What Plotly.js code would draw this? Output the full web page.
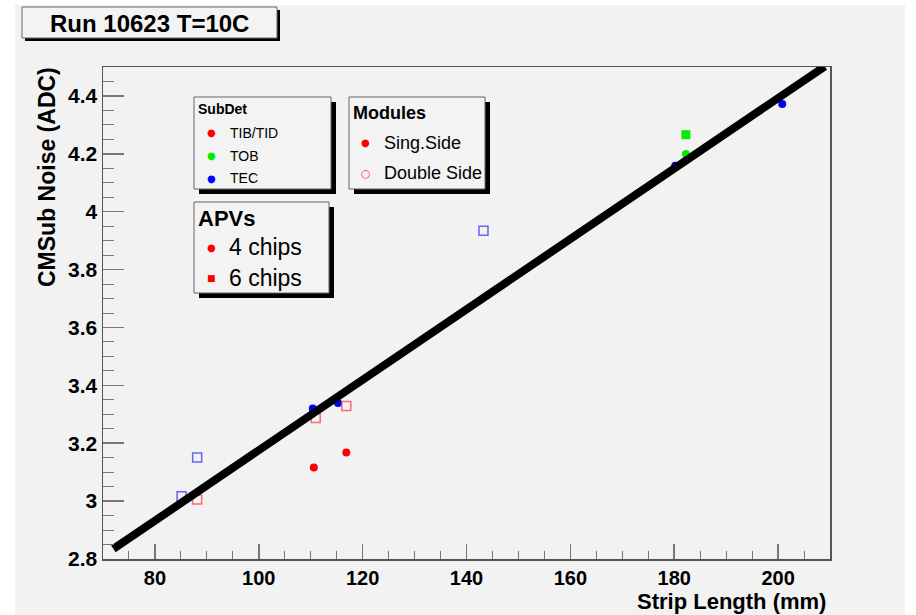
<!DOCTYPE html>
<html>
<head>
<meta charset="utf-8">
<script src="https://cdn.plot.ly/plotly-3.0.1.min.js"></script>
<style>
html,body{margin:0;padding:0;background:#ffffff;width:916px;height:615px;overflow:hidden;}
#chart{position:absolute;left:15px;top:5px;width:890px;height:610px;}
</style>
</head>
<body>
<div id="chart"></div>
<script>
// ---- data ----
const tibSingle4_x = [110.6, 116.85];
const tibSingle4_y = [3.116, 3.168];
const tecSingle4_x = [110.4, 115.25, 180.2, 200.8];
const tecSingle4_y = [3.320, 3.339, 4.159, 4.372];
const tobSingle4_x = [182.25];
const tobSingle4_y = [4.199];
const tobSingle6_x = [182.25];
const tobSingle6_y = [4.266];
const tibDouble6_x = [110.96, 116.85, 88.13];
const tibDouble6_y = [3.287, 3.329, 3.006];
const tecDouble6_x = [85.13, 88.13, 143.27];
const tecDouble6_y = [3.017, 3.151, 3.934];
const fit_x = [72, 209];
const fit_y = [2.835, 4.502];

const xTickVals = [80, 100, 120, 140, 160, 180, 200];
const yTickVals = [2.8, 3.0, 3.2, 3.4, 3.6, 3.8, 4.0, 4.2, 4.4];
const yTickText = ['2.8', '3', '3.2', '3.4', '3.6', '3.8', '4', '4.2', '4.4'];

// ---- layout helpers (page pixel -> paper fraction) ----
const DIVX = 15, DIVY = 5;
const ML = 88, MR = 75, MT = 62, MB = 56;
const W = 890, H = 610;
const PW = W - ML - MR, PH = H - MT - MB;
const px = a => (a - DIVX - ML) / PW;
const py = a => (H - MB - (a - DIVY)) / PH;

const FONT = 'Liberation Sans, Arial, sans-serif';

function box(x0, y0, x1, y1, sh) {
  return [
    {type:'rect', xref:'paper', yref:'paper', x0:px(x0+sh), x1:px(x1+sh), y0:py(y1+sh), y1:py(y0+sh),
     fillcolor:'#000000', line:{width:0}, layer:'above'},
    {type:'rect', xref:'paper', yref:'paper', x0:px(x0), x1:px(x1), y0:py(y1), y1:py(y0),
     fillcolor:'#f3f3f3', line:{color:'#666666', width:1}, layer:'above'}
  ];
}
function txt(x, y, text, size, opts) {
  return Object.assign({xref:'paper', yref:'paper', x:px(x), y:py(y), text:text, showarrow:false,
    xanchor:'left', yanchor:'middle', font:{family:FONT, size:size, color:'#000000'}}, opts || {});
}
function bold(size) { return {family:FONT, size:size, color:'#000', weight:'bold'}; }
function dot(x, y, ch, size, color) {
  return txt(x, y, ch, size, {xanchor:'center', font:{family:'DejaVu Sans', size:size, color:color}});
}

const traces = [
  {x:tibSingle4_x, y:tibSingle4_y, mode:'markers', type:'scatter',
   marker:{symbol:'circle', size:8, color:'#ff0000'}},
  {x:tecSingle4_x, y:tecSingle4_y, mode:'markers', type:'scatter',
   marker:{symbol:'circle', size:8, color:'#0000ff'}},
  {x:tobSingle4_x, y:tobSingle4_y, mode:'markers', type:'scatter',
   marker:{symbol:'circle', size:8, color:'#00ee00'}},
  {x:tobSingle6_x, y:tobSingle6_y, mode:'markers', type:'scatter',
   marker:{symbol:'square', size:9, color:'#00ee00'}},
  {x:tibDouble6_x, y:tibDouble6_y, mode:'markers', type:'scatter',
   marker:{symbol:'square-open', size:9, color:'rgba(255,60,60,0.75)', line:{width:1.5}}},
  {x:tecDouble6_x, y:tecDouble6_y, mode:'markers', type:'scatter',
   marker:{symbol:'square-open', size:9, color:'rgba(40,40,255,0.7)', line:{width:1.5}}},
  {x:fit_x, y:fit_y, mode:'lines', type:'scatter', line:{color:'#000000', width:8}}
];

const shapes = [].concat(
  box(22, 7, 277, 38, 3),
  box(194, 97, 331, 189, 5),
  box(349, 97, 485, 189, 5),
  box(194, 202, 329, 293, 5)
);

const annotations = [
  txt(149, 23, 'Run 10623 T=10C', 24, {xanchor:'center', font:bold(24)}),
  // SubDet
  txt(196, 109, 'SubDet', 14, {font:bold(14)}),
  dot(211.5, 132.5, '●', 10, '#ff0000'),
  txt(228, 132.5, 'TIB/TID', 14),
  dot(211.5, 155.5, '●', 10, '#00ee00'),
  txt(228, 155.5, 'TOB', 14),
  dot(211.5, 178, '●', 10, '#0000ff'),
  txt(228, 178, 'TEC', 14),
  // Modules
  txt(351, 113, 'Modules', 18, {font:bold(18)}),
  dot(365.5, 143, '●', 10, '#ff0000'),
  txt(382, 143, 'Sing.Side', 18),
  dot(365.5, 173, '○', 11, '#ff3030'),
  txt(382, 173, 'Double Side', 18),
  // APVs
  txt(196, 218, 'APVs', 22, {font:bold(22)}),
  dot(211.5, 247, '●', 10, '#ff0000'),
  txt(227, 247, '4 chips', 23),
  dot(211.5, 277.5, '■', 9, '#ff0000'),
  txt(227, 277.5, '6 chips', 23),
  // axis titles
  txt(47, 177, 'CMSub Noise (ADC)', 23, {xanchor:'center', textangle:-90, font:bold(23)}),
  txt(828, 601, 'Strip Length (mm)', 22, {xanchor:'right', font:bold(22)})
];

const layout = {
  width: W, height: H,
  margin: {l:ML, r:MR, t:MT, b:MB, pad:0},
  paper_bgcolor: '#f2f2f2',
  plot_bgcolor: '#f2f2f2',
  showlegend: false,
  xaxis: {
    range: [70, 210], tickmode:'array', tickvals:xTickVals,
    ticks:'inside', ticklen:15, tickwidth:1.5, tickcolor:'#777777',
    minor:{ticks:'inside', ticklen:8, tickwidth:1, tickcolor:'#777777', dtick:5, tick0:0, showgrid:false},
    showline:true, linecolor:'#555555', linewidth:1.5, mirror:true,
    showgrid:false, zeroline:false,
    tickfont:bold(20)
  },
  yaxis: {
    range: [2.8, 4.5], tickmode:'array', tickvals:yTickVals, ticktext:yTickText,
    ticks:'inside', ticklen:21, tickwidth:1.5, tickcolor:'#777777',
    minor:{ticks:'inside', ticklen:11, tickwidth:1, tickcolor:'#777777', dtick:0.05, tick0:2.8, showgrid:false},
    showline:true, linecolor:'#555555', linewidth:1.5, mirror:true,
    showgrid:false, zeroline:false,
    tickfont:bold(21)
  },
  shapes: shapes,
  annotations: annotations
};

Plotly.newPlot('chart', traces, layout, {displayModeBar:false, staticPlot:true});
</script>
</body>
</html>
